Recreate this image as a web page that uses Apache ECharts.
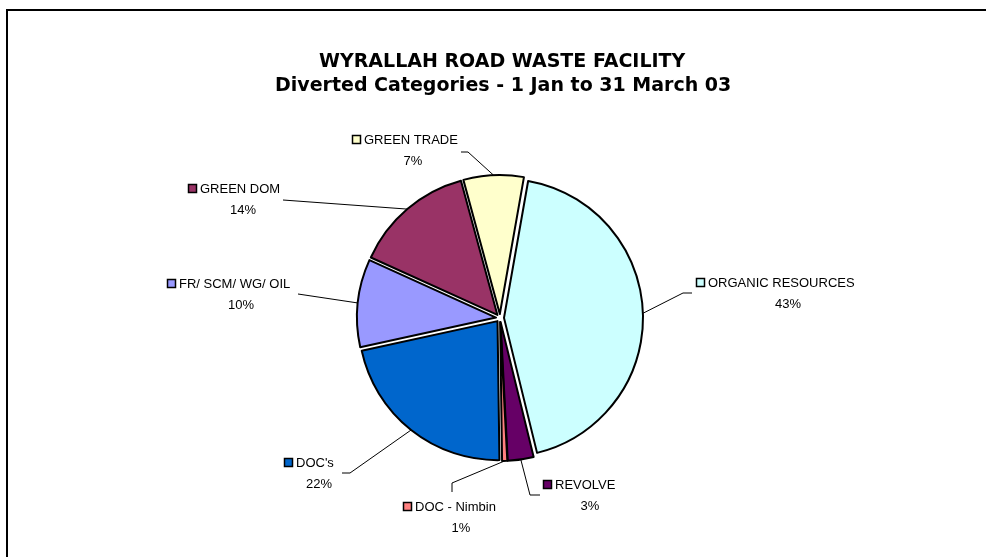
<!DOCTYPE html>
<html>
<head>
<meta charset="utf-8">
<script src="https://cdn.jsdelivr.net/npm/echarts@6/dist/echarts.min.js"></script>
<style>
  html, body { margin: 0; padding: 0; background: #fff; }
  #chart { width: 986px; height: 557px; }
</style>
</head>
<body>
<div id="chart"></div>
<script>
  // slices, clockwise from the top
  const categories = ['ORGANIC RESOURCES', 'REVOLVE', 'DOC - Nimbin', "DOC's", 'FR/ SCM/ WG/ OIL', 'GREEN DOM', 'GREEN TRADE']
  const shares = [43.4, 3.0, 0.6, 21.8, 10.2, 14.0, 7.0]
  const colors = ['#CCFFFF', '#660066', '#FF8080', '#0066CC', '#9999FF', '#993366', '#FFFFCC']

  // pie geometry
  const cx = 500, cy = 318, radius = 139, offset = 4, startAngle = 80

  // label blocks: key square left edge, first line y, percent centre x, leader line bends
  const labelSpots = [
    { sx: 696, y: 283, px: 788, line: [[683, 293], [692, 293]] },
    { sx: 543, y: 485, px: 590, line: [[530, 495], [540, 495]] },
    { sx: 403, y: 507, px: 461, line: [[452, 483], [452, 492]] },
    { sx: 284, y: 463, px: 319, line: [[350, 473], [342, 473]] },
    { sx: 167, y: 284, px: 241, line: [[298, 294]] },
    { sx: 188, y: 189, px: 243, line: [[283, 200]] },
    { sx: 352, y: 140, px: 413, line: [[468, 152], [461, 152]] }
  ]

  const total = shares.reduce((a, b) => a + b, 0)

  function edgePoint (i) {
    let before = 0
    for (let k = 0; k < i; k++) before += shares[k]
    const mid = (startAngle - (before + shares[i] / 2) / total * 360) * Math.PI / 180
    return [cx + (radius + offset) * Math.cos(mid), cy - (radius + offset) * Math.sin(mid)]
  }

  const chart = echarts.init(document.getElementById('chart'))

  const labelFont = '13px "Liberation Sans", Arial, sans-serif'
  const titleStyle = { fontFamily: 'DejaVu Sans', fontWeight: 'bold', fontSize: 19, color: '#000' }

  const option = {
    backgroundColor: '#fff',
    animation: false,
    title: [
      {
        text: 'WYRALLAH ROAD WASTE FACILITY',
        left: 314,
        top: 48,
        textStyle: titleStyle
      },
      {
        text: 'Diverted Categories - 1 Jan to 31 March 03',
        left: 270,
        top: 72,
        textStyle: titleStyle
      }
    ],
    graphic: [
      {
        type: 'rect',
        shape: { x: 7, y: 10, width: 1200, height: 800 },
        style: { fill: 'none', stroke: '#000', lineWidth: 2 },
        silent: true
      }
    ],
    series: [
      {
        type: 'pie',
        center: [cx, cy],
        radius: radius,
        startAngle: startAngle,
        clockwise: true,
        selectedMode: 'multiple',
        selectedOffset: offset,
        data: categories.map((name, i) => ({
          name: name,
          value: shares[i],
          selected: true,
          itemStyle: { color: colors[i] }
        })),
        itemStyle: { borderColor: '#000', borderWidth: 2 },
        emphasis: { disabled: true },
        select: { itemStyle: { borderColor: '#000', borderWidth: 2 } },
        label: { show: false },
        labelLine: { show: false }
      },
      {
        // data labels with legend keys and leader lines
        type: 'custom',
        coordinateSystem: 'none',
        silent: true,
        data: categories.map((name, i) => [i]),
        renderItem: (params, api) => {
          const i = api.value(0)
          const s = labelSpots[i]
          const pct = Math.round(shares[i] / total * 100) + '%'
          return {
            type: 'group',
            children: [
              {
                type: 'polyline',
                shape: { points: [edgePoint(i)].concat(s.line) },
                style: { stroke: '#000', lineWidth: 1, fill: null }
              },
              {
                type: 'rect',
                shape: { x: s.sx + 0.5, y: s.y - 4.5, width: 8, height: 8 },
                style: { fill: colors[i], stroke: '#000', lineWidth: 1.5 }
              },
              {
                type: 'text',
                style: {
                  text: categories[i],
                  x: s.sx + 12,
                  y: s.y,
                  align: 'left',
                  verticalAlign: 'middle',
                  font: labelFont,
                  fill: '#000'
                }
              },
              {
                type: 'text',
                style: {
                  text: pct,
                  x: s.px,
                  y: s.y + 21,
                  align: 'center',
                  verticalAlign: 'middle',
                  font: labelFont,
                  fill: '#000'
                }
              }
            ]
          }
        }
      }
    ]
  }
  chart.setOption(option)
</script>
</body>
</html>
